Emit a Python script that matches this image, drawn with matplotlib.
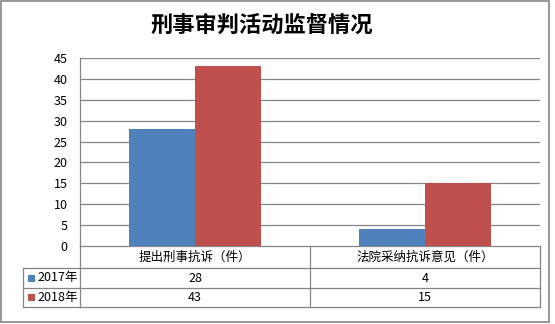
import matplotlib
matplotlib.use("Agg")
import matplotlib.pyplot as plt
from matplotlib.patches import Rectangle
from matplotlib.lines import Line2D

plt.rcParams['font.family'] = ['Noto Sans CJK SC', 'DejaVu Sans']

title = "刑事审判活动监督情况"
categories = ["提出刑事抗诉（件）", "法院采纳抗诉意见（件）"]
series_names = ["2017年", "2018年"]
values_2017 = [28, 4]
values_2018 = [43, 15]
series_values = [values_2017, values_2018]
colors = ["#4F81BD", "#C0504D"]
yticks = [0, 5, 10, 15, 20, 25, 30, 35, 40, 45]

W, H = 555, 324
fig = plt.figure(figsize=(W / 100, H / 100), dpi=100)
fig.patch.set_facecolor("white")

grid_c = "#868686"

# plot area in pixels
L, R, T, B = 80, 540, 58, 246
ax = fig.add_axes([L / W, 1 - B / H, (R - L) / W, (B - T) / H])
n = len(categories)
bw = 0.285
for i, (name, vals) in enumerate(zip(series_names, series_values)):
    xs = [k + 0.5 + (i - 0.5) * bw for k in range(n)]
    ax.bar(xs, vals, width=bw, color=colors[i], zorder=3, linewidth=0)
ax.set_xlim(0, n)
ax.set_ylim(0, 45)
ax.set_yticks(yticks)
ax.set_yticklabels([str(t) for t in yticks], fontsize=9)
ax.set_xticks([])
ax.tick_params(axis='y', length=0, pad=9)
for t in yticks[1:]:
    ax.axhline(t, color=grid_c, lw=0.9, zorder=1)
for s in ["top", "right"]:
    ax.spines[s].set_visible(False)
for s in ["left", "bottom"]:
    ax.spines[s].set_color(grid_c)
    ax.spines[s].set_linewidth(0.9)

# overlay in pixel coordinates for title, table, border
ov = fig.add_axes([0, 0, 1, 1], zorder=5)
ov.set_xlim(0, W)
ov.set_ylim(H, 0)
ov.axis("off")
ov.patch.set_alpha(0)

ov.add_patch(Rectangle((1, 1), 548, 321, fill=False, edgecolor=grid_c, lw=1.2))
ov.text(262, 25, title, ha="center", va="center", fontsize=16, fontweight="bold", color="black")

# table
col_x = [L + (R - L) / n * k for k in range(n + 1)]
row_y = [246, 268, 288, 307]
lx = 23

def line(x0, y0, x1, y1):
    ov.add_line(Line2D([x0, x1], [y0, y1], color=grid_c, lw=0.9))

for y in row_y[1:]:
    line(lx, y, R, y)
for x in col_x:
    line(x, row_y[0], x, row_y[-1])
line(lx, row_y[1], lx, row_y[-1])

for k, cat in enumerate(categories):
    ov.text((col_x[k] + col_x[k + 1]) / 2, (row_y[0] + row_y[1]) / 2, cat,
            ha="center", va="center", fontsize=9)
for i, (name, vals) in enumerate(zip(series_names, series_values)):
    yc = (row_y[i + 1] + row_y[i + 2]) / 2
    ov.add_patch(Rectangle((28, yc - 3.5), 7, 7, color=colors[i], lw=0))
    ov.text(37, yc, name, ha="left", va="center", fontsize=9)
    for k, v in enumerate(vals):
        ov.text((col_x[k] + col_x[k + 1]) / 2, yc, str(v), ha="center", va="center", fontsize=9)

fig.savefig("out.png", dpi=100)
